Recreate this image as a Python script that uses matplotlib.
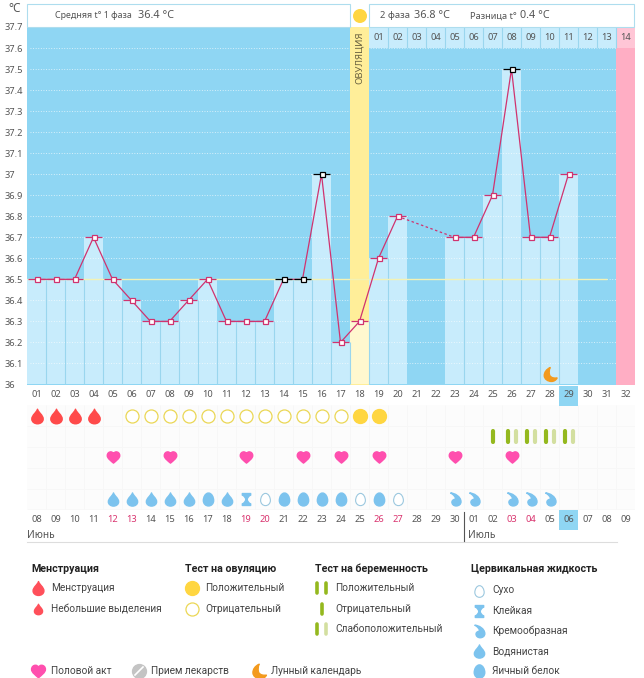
import numpy as np
import matplotlib
matplotlib.use("Agg")
import matplotlib.pyplot as plt
from matplotlib.path import Path
from matplotlib.patches import Rectangle, Circle

W, H = 644, 678

days = list(range(1, 33))
temps = [36.5, 36.5, 36.5, 36.7, 36.5, 36.4, 36.3, 36.3, 36.4, 36.5, 36.3, 36.3, 36.3, 36.5, 36.5, 37.0,
         36.2, 36.3, 36.6, 36.8, None, None, 36.7, 36.7, 36.9, 37.5, 36.7, 36.7, 37.0, None, None, None]
black_days = [14, 15, 16, 26]
ovulation_day = 18
cover_temp = 36.5
phase_days = ["01", "02", "03", "04", "05", "06", "07", "08", "09", "10", "11", "12", "13", "14"]
y_labels = ["36", "36.1", "36.2", "36.3", "36.4", "36.5", "36.6", "36.7", "36.8", "36.9",
            "37", "37.1", "37.2", "37.3", "37.4", "37.5", "37.6", "37.7"]
dates = ["08", "09", "10", "11", "12", "13", "14", "15", "16", "17", "18", "19", "20", "21", "22", "23",
         "24", "25", "26", "27", "28", "29", "30", "01", "02", "03", "04", "05", "06", "07", "08", "09"]
red_dates = [5, 6, 12, 13, 19, 20, 26, 27]
today_day = 29

menses_days = [1, 2, 3, 4]
ov_neg_days = [6, 7, 8, 9, 10, 11, 12, 13, 14, 15, 16, 17]
ov_pos_days = [18, 19]
preg_single_days = [25]
preg_double_days = [26, 27, 28, 29]
sex_days = [5, 8, 12, 15, 17, 19, 23, 26]
watery_days = [5, 6, 7, 8, 9, 11]
egg_days = [10, 14, 15, 16, 17, 19]
sticky_days = [12]
dry_days = [13, 18, 20]
creamy_days = [23, 24, 26, 27, 28]
moon_days = [28]

BG = "#8FD6F3"
BAR = "#C8ECFC"
SEP = "#9AD6EE"
PINK = "#D0336F"
TXT = "#555555"
SUN = "#FFD641"
RED = "#FF4A4A"
DROP = "#7CC3EE"
HEART = "#FF4FAE"
GREEN = "#94B81E"
GREEN_L = "#D3DFA0"
LEGEND_FONT = "Roboto"


def px_axes(fig, left, top, right, bottom, **kw):
    return fig.add_axes([left / W, 1 - bottom / H, (right - left) / W, (bottom - top) / H], **kw)


C = Path.CURVE4
M = Path.MOVETO
L = Path.LINETO
Z = Path.CLOSEPOLY

drop_path = Path([(0, 1), (0.12, 0.55), (0.78, 0.2), (0.78, -0.35), (0.78, -0.75), (0.4, -1), (0, -1),
                  (-0.4, -1), (-0.78, -0.75), (-0.78, -0.35), (-0.78, 0.2), (-0.12, 0.55), (0, 1), (0, 1)],
                 [M, C, C, C, C, C, C, C, C, C, C, C, C, Z])
egg_path = Path([(0, 1), (0.5, 1), (0.8, 0.35), (0.8, -0.15), (0.8, -0.65), (0.45, -1), (0, -1),
                 (-0.45, -1), (-0.8, -0.65), (-0.8, -0.15), (-0.8, 0.35), (-0.5, 1), (0, 1), (0, 1)],
                [M, C, C, C, C, C, C, C, C, C, C, C, C, Z])
creamy_path = Path([(-0.75, 1), (-0.1, 1), (0.8, 0.45), (0.85, -0.3), (0.88, -0.75), (0.5, -1), (0.1, -1),
                    (-0.3, -1), (-0.6, -0.7), (-0.55, -0.35), (-0.5, -0.05), (-0.15, 0.05), (0.05, 0.1),
                    (-0.05, 0.45), (-0.35, 0.8), (-0.75, 1), (-0.75, 1)],
                   [M, C, C, C, C, C, C, C, C, C, C, C, C, C, C, C, Z])
sticky_path = Path([(-0.7, 1), (0.7, 1), (0.7, 0.72), (0.38, 0.65), (0.12, 0.2), (0.12, 0), (0.12, -0.2),
                    (0.38, -0.65), (0.7, -0.72), (0.7, -1), (-0.7, -1), (-0.7, -0.72), (-0.38, -0.65),
                    (-0.12, -0.2), (-0.12, 0), (-0.12, 0.2), (-0.38, 0.65), (-0.7, 0.72), (-0.7, 1)],
                   [M, L, L, C, C, C, C, C, C, L, L, L, C, C, C, C, C, C, Z])
heart_path = Path([(0, -0.9), (-0.4, -0.55), (-1, -0.15), (-1, 0.3), (-1, 0.7), (-0.7, 0.9), (-0.45, 0.9),
                   (-0.2, 0.9), (-0.05, 0.75), (0, 0.6), (0.05, 0.75), (0.2, 0.9), (0.45, 0.9),
                   (0.7, 0.9), (1, 0.7), (1, 0.3), (1, -0.15), (0.4, -0.55), (0, -0.9), (0, -0.9)],
                  [M, C, C, C, C, C, C, C, C, C, C, C, C, C, C, C, C, C, C, Z])
moon_path = Path([(-0.05, 1), (-0.6, 0.75), (-0.9, 0.3), (-0.9, -0.15), (-0.9, -0.65), (-0.4, -1), (0.15, -1),
                  (0.5, -1), (0.8, -0.8), (0.95, -0.5), (0.55, -0.55), (0.1, -0.5), (-0.1, -0.15),
                  (-0.25, 0.2), (-0.2, 0.65), (-0.05, 1), (-0.05, 1)],
                 [M, C, C, C, C, C, C, C, C, C, C, C, C, C, C, C, Z])

fig = plt.figure(figsize=(W / 100, H / 100), dpi=100, facecolor="white")
plt.rcParams["font.family"] = ["Noto Sans", "DejaVu Sans"]

# temperature chart
ax = px_axes(fig, 27, 27, 635, 384.5)
ax.set_zorder(1)
ax.set_xlim(0.5, 32.5)
ax.set_ylim(36, 37.7)
ax.set_facecolor(BG)
for s in ax.spines.values():
    s.set_visible(False)
ax.set_yticks(np.arange(18) / 10 + 36)
ax.set_yticklabels(y_labels, ha="left", fontsize=6.7, color=TXT)
ax.tick_params(axis="y", length=0, pad=16)
ax.set_xticks(days)
ax.set_xticklabels(["%02d" % d for d in days], fontsize=6.7, color=TXT)
ax.tick_params(axis="x", length=0, pad=4)

# pink last column and ovulation column
ax.axvspan(31.5, 32.5, color="#FFAEC4", lw=0, zorder=0.5)
t_arr = np.array([np.nan if t is None else t for t in temps])
day_arr = np.array(days)
mask = ~np.isnan(t_arr) & (day_arr != ovulation_day)
ax.bar(day_arr[mask], t_arr[mask] - 36, bottom=36, width=1, color=BAR, lw=0, zorder=1)
ax.hlines(np.arange(1, 17) / 10 + 36, 0.65, 31.5, color="white", lw=0.55, alpha=0.85,
          linestyles=(0, (1.2, 2.2)), zorder=1.5)
ax.axvspan(ovulation_day - 0.5, ovulation_day + 0.5, color="#FFEE99", lw=0, zorder=2)
ov_t = t_arr[ovulation_day - 1]
ax.bar([ovulation_day], [ov_t - 36], bottom=36, width=1, color="#FFF8CF", lw=0, zorder=2.1)

# separators between filled columns
for i in range(len(days) - 1):
    a, b = t_arr[i], t_arr[i + 1]
    if not np.isnan(a) and not np.isnan(b):
        ax.vlines(days[i] + 0.5, 36, min(a, b), color=SEP, lw=0.8, zorder=2.2)

# top row of phase days
for k, lab in enumerate(phase_days):
    d = 19 + k
    col = "#FFC6D6" if lab == "14" else BAR
    ax.add_patch(Rectangle((d - 0.5, 37.6), 1, 0.1, fc=col, ec="none", zorder=2))
    if lab != "14":
        ax.vlines(d + 0.5, 37.6, 37.7, color=SEP, lw=0.8, zorder=2.2)
    ax.text(d, 37.648, lab, ha="center", va="center", fontsize=6.7, color=TXT, zorder=3)
ax.text(ovulation_day, 37.68, "ОВУЛЯЦИЯ", rotation=90, ha="center", va="top", fontsize=6.9, color="#6B6340", zorder=3)

ax.hlines(cover_temp, 0.5, 31, color="#F3F2B4", lw=1, zorder=3)

# temperature line
ax.plot(days, t_arr, color=PINK, lw=0.9, zorder=4)
known = day_arr[~np.isnan(t_arr)]
for d1, d2 in zip(known[:-1], known[1:]):
    if d2 - d1 > 1:
        ax.plot([d1, d2], [t_arr[d1 - 1], t_arr[d2 - 1]], color=PINK, lw=0.9, ls=(0, (2, 2)), zorder=4)
for d, t in zip(days, t_arr):
    if np.isnan(t):
        continue
    col = "black" if d in black_days else PINK
    ax.hlines(t, d - 0.45, d + 0.45, color=col, lw=0.9, zorder=4.5)
    ax.plot([d], [t], "s", ms=3.6, mfc="white", mec=col, mew=0.9, zorder=5)
ax.plot(moon_days, [36.05] * len(moon_days), ls="", marker=moon_path, ms=10, color="#F39A1E", zorder=5, clip_on=False)

# symbol rows under the chart
low = px_axes(fig, 27, 385, 635, 545)
low.set_zorder(0)
low.set_xlim(0.5, 32.5)
low.set_ylim((545 - 395) / 20.8, (385 - 395) / 20.8)
low.axis("off")

low.add_patch(Rectangle((0.5, 0.5), 32, 5, fc="#FCFCFC", ec="none", zorder=0))
low.vlines(np.arange(1, 33) + 0.5, 0.5, 5.5, color="#F7F7F7", lw=0.6, zorder=0.2)
low.hlines(np.arange(1, 6) + 0.5, 0.5, 32.5, color="#F7F7F7", lw=0.6, zorder=0.2)

low.plot(menses_days, [1] * len(menses_days), ls="", marker=drop_path, ms=10.5, color=RED)
low.plot(ov_neg_days, [1] * len(ov_neg_days), ls="", marker="o", ms=9.4, mfc="white", mec="#EBD755", mew=0.9)
low.plot(ov_pos_days, [1] * len(ov_pos_days), ls="", marker="o", ms=10, color=SUN)
low.vlines(preg_single_days, 1.72, 2.28, color=GREEN, lw=3, capstyle="round")
double_x = np.array(preg_double_days)
low.vlines(double_x - 0.2, 1.72, 2.28, color=GREEN, lw=3, capstyle="round")
low.vlines(double_x + 0.25, 1.72, 2.28, color=GREEN_L, lw=3, capstyle="round")
low.plot(sex_days, [3] * len(sex_days), ls="", marker=heart_path, ms=9, color=HEART)
low.plot(watery_days, [5] * len(watery_days), ls="", marker=drop_path, ms=9.5, color=DROP)
low.plot(egg_days, [5] * len(egg_days), ls="", marker=egg_path, ms=9.3, color=DROP)
low.plot(sticky_days, [5] * len(sticky_days), ls="", marker=sticky_path, ms=8.6, color=DROP)
low.plot(dry_days, [5] * len(dry_days), ls="", marker=egg_path, ms=8.8, mfc="white", mec="#9CC8DF", mew=0.8)
low.plot(creamy_days, [5] * len(creamy_days), ls="", marker=creamy_path, ms=9.3, color=DROP)

for d, lab in zip(days, dates):
    low.text(d, 6, lab, ha="center", va="center", fontsize=6.7,
             color="#D9336E" if d in red_dates else TXT)
low.add_patch(Rectangle((today_day - 0.5, -0.45), 1, 0.97, fc=BG, ec="none", zorder=0.5))
low.add_patch(Rectangle((today_day - 0.5, 5.55), 1, 0.95, fc=BG, ec="none", zorder=0.5))

# page level things in pixel coordinates
top = fig.add_axes([0, 0, 1, 1], facecolor="none")
top.set_zorder(2)
top.set_xlim(0, W)
top.set_ylim(H, 0)
top.axis("off")

top.add_patch(Rectangle((27.5, 3.5), 323, 23.5, fc="white", ec="#AEDDEE", lw=0.8))
top.add_patch(Rectangle((369, 3.5), 265.5, 23.5, fc="white", ec="#AEDDEE", lw=0.8))
top.add_patch(Circle((360, 16), 7, fc=SUN, ec="none"))

top.text(8, 8, "°C", fontsize=8.5, color=TXT, va="center")
top.text(55, 16, "Средняя t° 1 фаза", fontsize=6.4, color=TXT, va="center")
top.text(138, 15.5, "36.4 °C", fontsize=7.8, color=TXT, va="center")
top.text(380, 16, "2 фаза", fontsize=6.8, color=TXT, va="center")
top.text(414, 15.5, "36.8 °C", fontsize=7.8, color=TXT, va="center")
top.text(470, 16, "Разница t°", fontsize=6.6, color=TXT, va="center")
top.text(520, 15.5, "0.4 °C", fontsize=7.8, color=TXT, va="center")

top.text(27, 536, "Июнь", fontsize=7.3, color=TXT, va="center")
top.text(468, 536, "Июль", fontsize=7.3, color=TXT, va="center")
top.plot([27, 617], [541.5, 541.5], color="#DDDDDD", lw=0.8)
top.plot([464.5, 464.5], [512, 541], color="#555555", lw=0.8)

# legend
def leg_title(x, y, s):
    top.text(x, y, s, fontsize=7.7, fontweight="bold", color="#222222", va="center", family=LEGEND_FONT)


def leg_text(x, y, s):
    top.text(x, y, s, fontsize=7.3, color="#444444", va="center", family=LEGEND_FONT)


leg_title(31, 569, "Менструация")
leg_title(185, 569, "Тест на овуляцию")
leg_title(315, 569, "Тест на беременность")
leg_title(471, 569, "Цервикальная жидкость")

top.plot([38.5], [588], marker=drop_path, ms=10, color="#FF4F5A", ls="")
leg_text(51, 588, "Менструация")
top.plot([38.5], [609], marker=drop_path, ms=7.5, color="#FF4F5A", ls="")
leg_text(51, 609, "Небольшие выделения")

top.plot([192], [588], marker="o", ms=10, color=SUN, ls="")
leg_text(205, 588, "Положительный")
top.plot([192], [609], marker="o", ms=9.4, mfc="white", mec="#EBD755", mew=0.9, ls="")
leg_text(205, 609, "Отрицательный")

for x, c, y1, y2 in [(317.5, GREEN, 583, 593), (326, GREEN, 583, 593), (322, GREEN, 604, 614),
                     (317.5, GREEN, 624, 634), (326, GREEN_L, 624, 634)]:
    top.plot([x, x], [y1, y2], color=c, lw=2.6, solid_capstyle="round")
leg_text(335, 588, "Положительный")
leg_text(335, 609, "Отрицательный")
leg_text(335, 629, "Слабоположительный")

top.plot([479.5], [591], marker=egg_path, ms=8.4, mfc="white", mec="#9CC8DF", mew=0.8, ls="")
leg_text(492, 590, "Сухо")
top.plot([479.5], [611], marker=sticky_path, ms=8.6, color=DROP, ls="")
leg_text(492, 611, "Клейкая")
top.plot([479.5], [631], marker=creamy_path, ms=9, color=DROP, ls="")
leg_text(492, 631, "Кремообразная")
top.plot([479.5], [651], marker=drop_path, ms=9.5, color=DROP, ls="")
leg_text(492, 651, "Водянистая")
top.plot([479.5], [671], marker=egg_path, ms=9.5, color=DROP, ls="")
leg_text(492, 671, "Яичный белок")

top.plot([38], [671], marker=heart_path, ms=10, color=HEART, ls="")
leg_text(51, 671, "Половой акт")
top.plot([139], [671], marker="o", ms=10, color="#C4C4C4", ls="")
top.plot([135, 143], [675, 667], color="white", lw=1.2)
leg_text(151, 671, "Прием лекарств")
top.plot([259], [671], marker=moon_path, ms=10.5, color="#F39A1E", ls="")
leg_text(271, 671, "Лунный календарь")

fig.savefig("out.png", dpi=100, facecolor="white")
